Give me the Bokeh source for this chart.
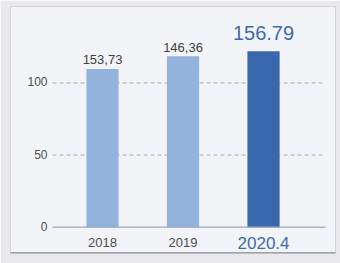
from bokeh.plotting import figure
from bokeh.models import ColumnDataSource
from bokeh.core.properties import value
from bokeh.embed import file_html
from bokeh.resources import INLINE

# data
categories = ["2018", "2019", "2020.4"]
bar_heights = [109.7, 118.5, 122.0]          # bar heights as drawn
value_labels = ["153,73", "146,36", "156.79"]  # printed values
y_ticks = [0, 50, 100]

FONT = value("Liberation Sans")
x_pos = list(range(len(categories)))

p = figure(width=340, height=263, output_backend="svg", toolbar_location=None,
           x_range=(-1.143, 2.894), y_range=(-18.26, 153.0),
           min_border_left=10, min_border_right=5, min_border_top=6, min_border_bottom=10)
p.axis.visible = False
p.grid.visible = False
p.background_fill_color = "#f3f4f7"
p.border_fill_color = "#e9e9eb"
p.outline_line_color = "#d3d4d8"
p.outline_line_width = 1

# card shadow at bottom
p.segment(x0=[-1.2], x1=[3.0], y0=[-17.9], y1=[-17.9], line_color="#a3a3a7", line_width=2)

# gridlines
x0, x1 = -0.621, 2.770
p.segment(x0=[x0] * 2, x1=[x1] * 2, y0=y_ticks[1:], y1=y_ticks[1:],
          line_color="#a9abb3", line_dash="4 3", line_width=1)

colors = ["#93b3dc", "#93b3dc", "#3a68ad"]
src = ColumnDataSource(dict(x=x_pos, top=bar_heights, color=colors))
p.vbar(x="x", top="top", bottom=0, width=0.40, fill_color="color", line_color=None, source=src)

# baseline
p.segment(x0=[x0], x1=[x1], y0=[0], y1=[0], line_color="#9aa6bf", line_width=1.3)

# y tick labels
p.text(x=[-0.683] * 3, y=y_ticks, text=[str(t) for t in y_ticks],
       text_align="right", text_baseline="middle", text_font=FONT,
       text_font_size="12px", text_color="#4d4d4d", y_offset=-1)

# category labels
p.text(x=x_pos[:2], y=[-10.9] * 2, text=categories[:2], text_align="center",
       text_baseline="middle", text_font=FONT, text_font_size="13px", text_color="#4d4d4d")
p.text(x=x_pos[2:], y=[-10.9], text=categories[2:], text_align="center",
       text_baseline="middle", text_font=FONT, text_font_size="17px", text_color="#3d69b0")

# value labels
p.text(x=x_pos[:2], y=bar_heights[:2], text=value_labels[:2], text_align="center",
       text_baseline="middle", text_font=FONT, text_font_size="13px", text_color="#3f3f3f",
       y_offset=-9)
p.text(x=x_pos[2:], y=bar_heights[2:], text=value_labels[2:], text_align="center",
       text_baseline="middle", text_font=FONT, text_font_size="20px", text_color="#3d69b0",
       y_offset=-18)

open("out.html", "w").write(file_html(p, INLINE))
